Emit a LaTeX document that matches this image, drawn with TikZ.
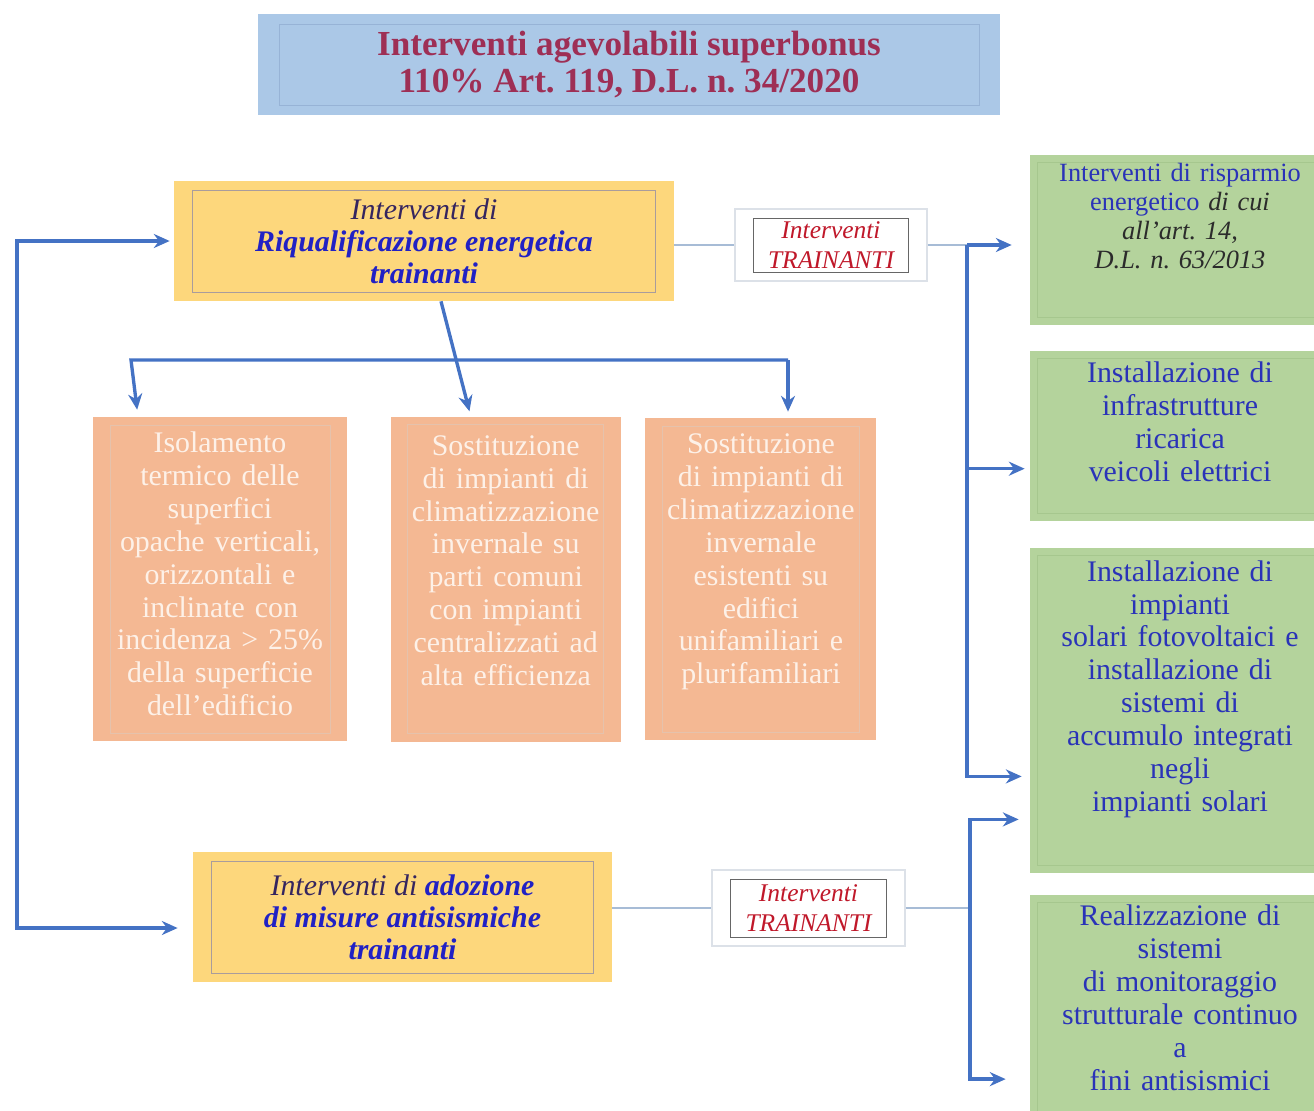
\documentclass[tikz,border=0pt]{standalone}
\usepackage{fontspec}
\setmainfont{Liberation Serif}
\usepackage{xcolor}
\usepackage{tikz}
\usetikzlibrary{arrows.meta, positioning}
\frenchspacing
\definecolor{titleblue}{HTML}{ABC8E7}
\definecolor{titleframe}{HTML}{97B3D6}
\definecolor{titlered}{HTML}{9E2F55}
\definecolor{trainyellow}{HTML}{FDD77C}
\definecolor{yellowframe}{HTML}{A99C9C}
\definecolor{navytext}{HTML}{35255F}
\definecolor{boldblue}{HTML}{2121C4}
\definecolor{orangefill}{HTML}{F4B893}
\definecolor{orangeframe}{HTML}{E5C2AC}
\definecolor{orangetext}{HTML}{FDF1E8}
\definecolor{greenfill}{HTML}{B4D39C}
\definecolor{greenframe}{HTML}{A6C78E}
\definecolor{greentext}{HTML}{2A33B8}
\definecolor{darktext}{HTML}{2B2B2B}
\definecolor{redtext}{HTML}{C0182A}
\definecolor{labelgray}{HTML}{DCE1E8}
\definecolor{arrowblue}{HTML}{4472C4}
\definecolor{linkgray}{HTML}{A7BCD6}
\tikzset{innerframe/.style n args={3}{path picture={
  \draw[#1, line width=0.5pt] ([shift={(#2,#3)}]path picture bounding box.south west)
    rectangle ([shift={(-#2,-#3)}]path picture bounding box.north east);}}}
\tikzstyle{titlebox} = [rectangle, minimum width=14.84cm, minimum height=2.02cm, fill=titleblue,
  innerframe={titleframe}{0.42cm}{0.2cm}, text=titlered, align=center,
  font=\fontsize{20}{21}\selectfont\bfseries]
\tikzstyle{trainbox} = [rectangle, minimum width=10cm, minimum height=2.4cm, fill=trainyellow,
  innerframe={yellowframe}{0.37cm}{0.18cm}, align=center, text=boldblue,
  font=\fontsize{17}{18.2}\selectfont\bfseries\itshape]
\tikzstyle{tagbox} = [rectangle, minimum width=3.84cm, minimum height=1.44cm, draw=labelgray,
  line width=0.8pt, fill=white, innerframe={black!60}{0.37cm}{0.18cm}, align=center,
  text=redtext, font=\fontsize{14.5}{17.5}\selectfont\itshape]
\tikzstyle{workbox} = [rectangle, minimum width=5.08cm, minimum height=6.48cm, fill=orangefill,
  innerframe={orangeframe}{0.34cm}{0.16cm}]
\tikzstyle{worktext} = [text width=4.6cm, align=center, inner sep=0pt, text=orangetext,
  font=\fontsize{17}{18.7}\selectfont]
\tikzstyle{aimbox} = [rectangle, minimum width=6cm, minimum height=3.4cm, fill=greenfill,
  innerframe={greenframe}{0.15cm}{0.15cm}]
\tikzstyle{aimtext} = [text width=5.6cm, align=center, inner sep=0pt, text=greentext,
  font=\fontsize{17}{18.7}\selectfont]
\tikzstyle{arrow} = [-{Stealth[length=9pt, width=8pt]}, line width=1.9pt, draw=arrowblue]
\tikzstyle{link} = [line width=0.9pt, draw=linkgray]

\begin{document}
\begin{tikzpicture}

  \useasboundingbox (0,0) rectangle (26.28,-22.2);
  \clip (0,0) rectangle (26.28,-22.2);

  % === TITLE ===
  \node (title) [titlebox] at (12.58,-1.29)
    {Interventi agevolabili superbonus\\110\% Art. 119, D.L. n. 34/2020};

  % === INTERVENTI TRAINANTI ===
  \node (riq) [trainbox] at (8.48,-4.82)
    {{\mdseries\color{navytext}Interventi di}\\Riqualificazione energetica\\trainanti};
  \node (antis) [trainbox, minimum width=8.38cm, minimum height=2.6cm] at (8.05,-18.34)
    {{\mdseries\color{navytext}Interventi di} adozione\\di misure antisismiche\\trainanti};

  \node (tag1) [tagbox] at (16.62,-4.9) {Interventi\\TRAINANTI};
  \node (tag2) [tagbox, minimum width=3.86cm, minimum height=1.52cm] at (16.17,-18.16)
    {Interventi\\TRAINANTI};

  % === RIQUALIFICAZIONE (side-by-side) ===
  \node (iso) [workbox] at (4.4,-11.58) {};
  \node (sost1) [workbox, right=0.86cm of iso, minimum width=4.6cm, minimum height=6.5cm] {};
  \node (sost2) [workbox, right=0.48cm of sost1, minimum width=4.62cm, minimum height=6.44cm] {};

  \node (isot) [worktext, below=0.3cm of iso.north]
    {Isolamento\\termico delle\\superfici\\opache verticali,\\orizzontali e\\inclinate con\\incidenza > 25\%\\della superficie\\dell’edificio};
  \node (sost1t) [worktext, below=0.38cm of sost1.north]
    {Sostituzione\\di impianti di\\climatizzazione\\invernale su\\parti comuni\\con impianti\\centralizzati ad\\alta efficienza};
  \node (sost2t) [worktext, below=0.32cm of sost2.north]
    {Sostituzione\\di impianti di\\climatizzazione\\invernale\\esistenti su\\edifici\\unifamiliari e\\plurifamiliari};

  % === INTERVENTI TRAINATI ===
  \node (risp) [aimbox] at (23.6,-4.8) {};
  \node (ricar) [aimbox, below=0.5cm of risp] {};
  \node (solar) [aimbox, below=0.54cm of ricar, minimum height=6.5cm] {};
  \node (monit) [aimbox, below=0.42cm of solar, minimum height=4.64cm] {};

  \node (rispt) [aimtext, font=\fontsize{15}{16.5}\selectfont, below=0.16cm of risp.north]
    {Interventi di risparmio\\energetico {\itshape\color{darktext}di cui}\\{\itshape\color{darktext}all'art. 14,}\\{\itshape\color{darktext}D.L. n. 63/2013}};
  \node (ricart) [aimtext, below=0.22cm of ricar.north]
    {Installazione di\\infrastrutture\\ricarica\\veicoli elettrici};
  \node (solart) [aimtext, below=0.24cm of solar.north]
    {Installazione di\\impianti\\solari fotovoltaici e\\installazione di\\sistemi di\\accumulo integrati\\negli\\impianti solari};
  \node (monitt) [aimtext, below=0.2cm of monit.north]
    {Realizzazione di\\sistemi\\di monitoraggio\\strutturale continuo\\a\\fini antisismici};

  % === CONNECTORS ===
  \coordinate (lbus) at (0.34,-10);
  \coordinate (bl) at (2.62,-7.2);
  \coordinate (br) at (15.76,-7.2);
  \coordinate (rbus1) at (19.34,-4.9);
  \coordinate (rbus2) at (19.4,-18.16);

  \draw[arrow, shorten >=0.08cm] (lbus) |- (riq);
  \draw[arrow, shorten >=0.3cm] (lbus) |- ([yshift=-0.22cm]antis.west);

  \draw[arrow, shorten >=0.1cm] ([xshift=0.34cm]riq.south) -- ([xshift=-0.7cm]sost1.north);
  \draw[arrow, shorten >=0.14cm] (br) -- (bl) -- ([xshift=-1.64cm]iso.north);
  \draw[arrow, shorten >=0.12cm] (br) -- (br |- sost2.north);

  \draw[link] (riq.east |- tag1) -- (tag1);
  \draw[link] (tag1) -- (rbus1);
  \draw[arrow, shorten >=0.36cm] (rbus1) -- (rbus1 -| risp.west);
  \draw[arrow, shorten >=0.1cm] (rbus1) |- ([yshift=-0.66cm]ricar.west);
  \draw[arrow, shorten >=0.16cm] (rbus1) |- ([yshift=-1.31cm]solar.west);

  \draw[link] (antis.east |- tag2) -- (tag2);
  \draw[link] (tag2) -- (rbus2);
  \draw[arrow, shorten >=0.22cm] (rbus2) |- ([yshift=-2.17cm]solar.west);
  \draw[arrow, shorten >=0.48cm] (rbus2) |- ([yshift=-1.36cm]monit.west);

\end{tikzpicture}
\end{document}
